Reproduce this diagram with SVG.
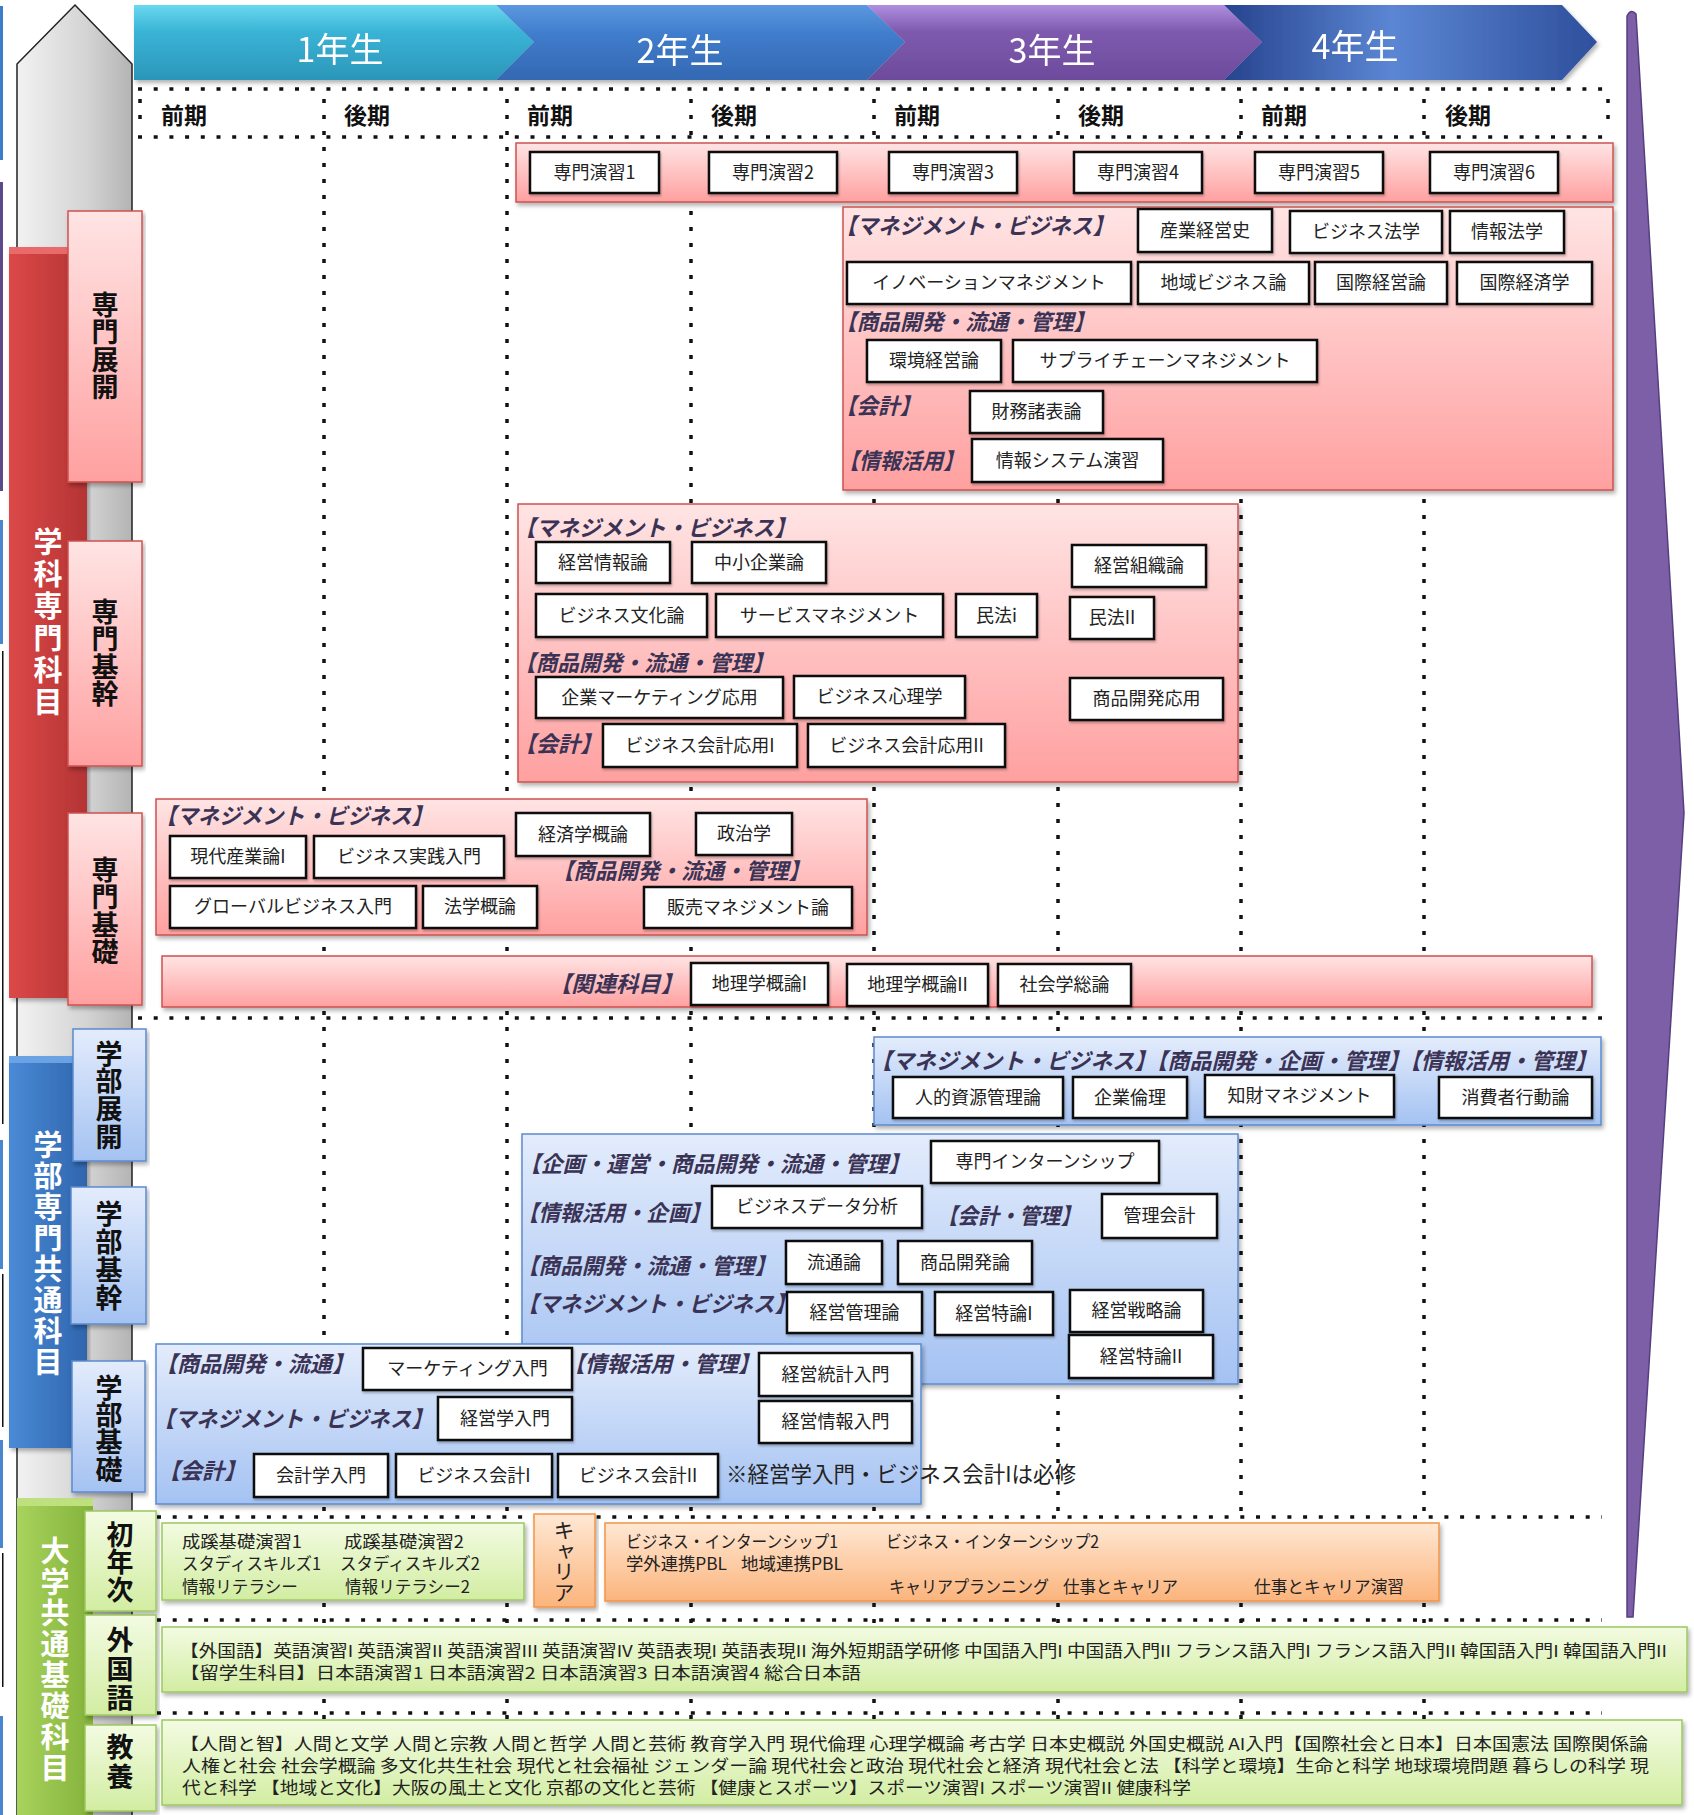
<svg xmlns="http://www.w3.org/2000/svg" width="1694" height="1815" viewBox="0 0 1694 1815">
<defs>
<filter id="sh" x="-5%" y="-10%" width="110%" height="130%"><feDropShadow dx="2" dy="3" stdDeviation="2" flood-color="#000" flood-opacity="0.3"/></filter>
<filter id="sh2" x="-5%" y="-10%" width="110%" height="130%"><feDropShadow dx="1" dy="2" stdDeviation="1" flood-color="#000" flood-opacity="0.25"/></filter>
<linearGradient id="gGray" x1="0" y1="0" x2="1" y2="0"><stop offset="0" stop-color="#f2f2f2"/><stop offset="0.6" stop-color="#d4d4d4"/><stop offset="1" stop-color="#b4b4b4"/></linearGradient>
<linearGradient id="gPink" x1="0" y1="0" x2="0" y2="1"><stop offset="0" stop-color="#ffe4e4"/><stop offset="1" stop-color="#ffa0a0"/></linearGradient>
<linearGradient id="gBlue" x1="0" y1="0" x2="0" y2="1"><stop offset="0" stop-color="#e3ecfc"/><stop offset="1" stop-color="#a4c2f2"/></linearGradient>
<linearGradient id="gGreen" x1="0" y1="0" x2="0" y2="1"><stop offset="0" stop-color="#f3fbe2"/><stop offset="1" stop-color="#d2eda2"/></linearGradient>
<linearGradient id="gOrange" x1="0" y1="0" x2="0" y2="1"><stop offset="0" stop-color="#ffe8d4"/><stop offset="1" stop-color="#fbb47c"/></linearGradient>
<linearGradient id="gRed" x1="0" y1="0" x2="1" y2="0"><stop offset="0" stop-color="#dc4848"/><stop offset="1" stop-color="#b43434"/></linearGradient>
<linearGradient id="gBBar" x1="0" y1="0" x2="1" y2="0"><stop offset="0" stop-color="#4a8ad6"/><stop offset="1" stop-color="#2f65ad"/></linearGradient>
<linearGradient id="gGBar" x1="0" y1="0" x2="1" y2="0"><stop offset="0" stop-color="#a8d35c"/><stop offset="1" stop-color="#84b23a"/></linearGradient>
<linearGradient id="gS1" x1="0" y1="0" x2="0" y2="1"><stop offset="0" stop-color="#6ad8f0"/><stop offset="0.35" stop-color="#3ab4d6"/><stop offset="1" stop-color="#2b96b9"/></linearGradient>
<linearGradient id="gS2" x1="0" y1="0" x2="0" y2="1"><stop offset="0" stop-color="#5c98e0"/><stop offset="0.4" stop-color="#3f7ccb"/><stop offset="1" stop-color="#3468b2"/></linearGradient>
<linearGradient id="gS3" x1="0" y1="0" x2="0" y2="1"><stop offset="0" stop-color="#b08ee0"/><stop offset="0.35" stop-color="#7e5aae"/><stop offset="1" stop-color="#6d4b9c"/></linearGradient>
<linearGradient id="gS4" x1="0" y1="0" x2="1" y2="0"><stop offset="0" stop-color="#27438e"/><stop offset="0.45" stop-color="#5b86d3"/><stop offset="1" stop-color="#2e4f9c"/></linearGradient>
<style>
.box{fill:#fff;stroke:#111;stroke-width:2.5;filter:url(#sh2)}
.bt{font-family:"Noto Sans CJK JP","Noto Sans CJK SC",sans-serif;font-size:18px;fill:#222;text-anchor:middle}
.lab{font-family:"Noto Sans CJK JP","Noto Sans CJK SC",sans-serif;font-size:22px;font-weight:bold;font-style:italic;fill:#3b3355}
.pk{fill:url(#gPink);stroke:#cd5250;stroke-width:1.5;filter:url(#sh)}
.bl{fill:url(#gBlue);stroke:#5b8bd0;stroke-width:1.5;filter:url(#sh)}
.gr{fill:url(#gGreen);stroke:#9cc95e;stroke-width:1.5;filter:url(#sh)}
.or{fill:url(#gOrange);stroke:#f39447;stroke-width:1.5;filter:url(#sh)}
.hd{font-family:"Noto Sans CJK JP","Noto Sans CJK SC",sans-serif;font-size:34px;fill:#fff;text-anchor:middle}
.sem{font-family:"Noto Sans CJK JP","Noto Sans CJK SC",sans-serif;font-size:23px;font-weight:bold;fill:#111}
.vt{font-family:"Noto Sans CJK JP","Noto Sans CJK SC",sans-serif;font-size:27px;font-weight:bold;fill:#111;writing-mode:vertical-rl}
.vw{font-family:"Noto Sans CJK JP","Noto Sans CJK SC",sans-serif;font-size:29px;font-weight:bold;fill:#fff;writing-mode:vertical-rl}
.sm{font-family:"Noto Sans CJK JP","Noto Sans CJK SC",sans-serif;font-size:17px;fill:#222}
.sm2{font-family:"Noto Sans CJK JP","Noto Sans CJK SC",sans-serif;font-size:16.5px;fill:#222}
.dv{stroke:#111;stroke-width:3.5;stroke-dasharray:4 12;fill:none}
.dh{stroke:#111;stroke-width:3.5;stroke-dasharray:4 11.7;fill:none}
</style>
</defs>
<rect width="1694" height="1815" fill="#fff"/>

<!-- left edge slivers -->
<g id="edge">
<rect x="0" y="6" width="3" height="154" fill="#3d7cc9"/>
<rect x="0" y="182" width="3" height="309" fill="#5a4a8a"/>
<rect x="0" y="520" width="3" height="124" fill="#4a86d0"/>
<rect x="2" y="651" width="1.5" height="473" fill="#111"/>
<rect x="0" y="1140" width="3" height="129" fill="#4a86d0"/>
<rect x="2" y="1274" width="1.5" height="153" fill="#111"/>
<rect x="0" y="1440" width="3" height="108" fill="#4a86d0"/>
<rect x="2" y="1553" width="1.5" height="134" fill="#111"/>
<rect x="0" y="1716" width="3" height="99" fill="#4a86d0"/>
</g>

<!-- big gray arrow -->
<path id="grayArrow" d="M75,5 L132,64 L132,1816 L17,1816 L17,64 Z" fill="url(#gGray)" stroke="#222" stroke-width="1.5"/>

<!-- right purple arrow -->
<path id="purpleArrow" d="M1627,16 Q1631,8 1636,14 L1684,813 L1633,1617 L1627,1617 Z" fill="#7d5fa7" stroke="#563f7f" stroke-width="1.5"/>

<!-- year header -->
<g id="years" filter="url(#sh)">
<g id="y1"><path d="M134,5 L496,5 L534,42 L496,80 L134,80 Z" fill="url(#gS1)"/><text class="hd" x="340" y="62">1年生</text></g>
<g id="y2"><path d="M496,5 L867,5 L905,42 L867,80 L496,80 L534,42 Z" fill="url(#gS2)"/><text class="hd" x="680" y="63">2年生</text></g>
<g id="y3"><path d="M867,5 L1224,5 L1262,42 L1224,80 L867,80 L905,42 Z" fill="url(#gS3)"/><text class="hd" x="1052" y="63">3年生</text></g>
<g id="y4"><path d="M1224,5 L1562,5 L1597,42 L1562,80 L1224,80 L1262,42 Z" fill="url(#gS4)"/><text class="hd" x="1355" y="59">4年生</text></g>
</g>

<!-- grid -->
<g id="grid">
<line class="dh" x1="138" y1="89" x2="1610" y2="89"/>
<line class="dh" x1="138" y1="137" x2="1610" y2="137"/>
<line class="dh" x1="138" y1="1018" x2="1602" y2="1018"/>
<line class="dh" x1="157" y1="1517" x2="1602" y2="1517"/>
<line class="dh" x1="157" y1="1620" x2="1602" y2="1620"/>
<line class="dh" x1="157" y1="1713" x2="1602" y2="1713"/>
<line class="dv" x1="140" y1="99" x2="140" y2="130"/>
<line class="dv" x1="1608" y1="99" x2="1608" y2="130"/>
<line class="dv" x1="324" y1="99" x2="324" y2="1810"/>
<line class="dv" x1="507" y1="99" x2="507" y2="1810"/>
<line class="dv" x1="691" y1="99" x2="691" y2="1810"/>
<line class="dv" x1="874" y1="99" x2="874" y2="1810"/>
<line class="dv" x1="1058" y1="99" x2="1058" y2="1810"/>
<line class="dv" x1="1241" y1="99" x2="1241" y2="1810"/>
<line class="dv" x1="1424" y1="99" x2="1424" y2="1810"/>
</g>

<g id="semesters">
<text class="sem" x="161" y="124">前期</text>
<text class="sem" x="344" y="124">後期</text>
<text class="sem" x="527" y="124">前期</text>
<text class="sem" x="711" y="124">後期</text>
<text class="sem" x="894" y="124">前期</text>
<text class="sem" x="1078" y="124">後期</text>
<text class="sem" x="1261" y="124">前期</text>
<text class="sem" x="1445" y="124">後期</text>
</g>

<!-- category bars -->
<g id="cat-gakka">
<rect x="9" y="247" width="78" height="751" fill="url(#gRed)" filter="url(#sh)"/>
<rect x="9" y="247" width="78" height="7" fill="#e86a6a"/>
<text class="vw" x="48" y="527" letter-spacing="3">学科専門科目</text>
</g>
<g id="cat-gakubu">
<rect x="9" y="1056" width="78" height="392" fill="url(#gBBar)" filter="url(#sh)"/>
<rect x="9" y="1056" width="78" height="7" fill="#6aa2e4"/>
<text class="vw" x="48" y="1130" letter-spacing="2">学部専門共通科目</text>
</g>
<g id="cat-daigaku">
<rect x="17" y="1498" width="76" height="320" fill="url(#gGBar)"/>
<rect x="17" y="1498" width="76" height="8" fill="#bfe07e"/>
<text class="vw" x="55" y="1536" letter-spacing="2">大学共通基礎科目</text>
</g>

<!-- sub category boxes -->
<g id="sub-tenkai"><rect class="pk" x="68" y="211" width="74" height="271"/><text class="vt" x="105" y="291" letter-spacing="0.5">専門展開</text></g>
<g id="sub-kikan"><rect class="pk" x="68" y="541" width="74" height="225"/><text class="vt" x="105" y="598" letter-spacing="0.5">専門基幹</text></g>
<g id="sub-kiso"><rect class="pk" x="68" y="813" width="74" height="192"/><text class="vt" x="105" y="856" letter-spacing="0.5">専門基礎</text></g>
<g id="sub-gtenkai"><rect class="bl" x="73" y="1029" width="73" height="132"/><text class="vt" x="109" y="1040" letter-spacing="0.7">学部展開</text></g>
<g id="sub-gkikan"><rect class="bl" x="71" y="1187" width="75" height="137"/><text class="vt" x="109" y="1200" letter-spacing="1">学部基幹</text></g>
<g id="sub-gkiso"><rect class="bl" x="72" y="1361" width="73" height="131"/><text class="vt" x="109" y="1374" letter-spacing="0.3">学部基礎</text></g>
<g id="sub-shonen"><rect class="gr" x="85" y="1511" width="71" height="100"/><text class="vt" x="120" y="1521" letter-spacing="0.5">初年次</text></g>
<g id="sub-gaikoku"><rect class="gr" x="85" y="1615" width="71" height="100"/><text class="vt" x="120" y="1626" letter-spacing="2">外国語</text></g>
<g id="sub-kyoyo"><rect class="gr" x="85" y="1725" width="71" height="86"/><text class="vt" x="120" y="1733" letter-spacing="3">教養</text></g>

<!-- Panel: 専門演習 -->
<g id="p-enshu">
<rect class="pk" x="516" y="143" width="1097" height="59"/>
<g id="c-enshu1"><rect class="box" x="530" y="152" width="129" height="41"/><text class="bt" x="594.5" y="179">専門演習1</text></g>
<g id="c-enshu2"><rect class="box" x="709" y="152" width="128" height="41"/><text class="bt" x="773" y="179">専門演習2</text></g>
<g id="c-enshu3"><rect class="box" x="889" y="152" width="128" height="41"/><text class="bt" x="953" y="179">専門演習3</text></g>
<g id="c-enshu4"><rect class="box" x="1074" y="152" width="128" height="41"/><text class="bt" x="1138" y="179">専門演習4</text></g>
<g id="c-enshu5"><rect class="box" x="1255" y="152" width="128" height="41"/><text class="bt" x="1319" y="179">専門演習5</text></g>
<g id="c-enshu6"><rect class="box" x="1430" y="152" width="128" height="41"/><text class="bt" x="1494" y="179">専門演習6</text></g>
</g>

<!-- Panel: 専門展開 -->
<g id="p-tenkai">
<rect class="pk" x="843" y="207" width="770" height="283"/>
<text class="lab" x="835" y="234" textLength="279" lengthAdjust="spacingAndGlyphs">【マネジメント・ビジネス】</text>
<text class="lab" x="835" y="330" textLength="260" lengthAdjust="spacingAndGlyphs">【商品開発・流通・管理】</text>
<text class="lab" x="835" y="414" textLength="86" lengthAdjust="spacingAndGlyphs">【会計】</text>
<text class="lab" x="838" y="469" textLength="126" lengthAdjust="spacingAndGlyphs">【情報活用】</text>
<g id="c-sangyo"><rect class="box" x="1138" y="209" width="134" height="43"/><text class="bt" x="1205" y="237">産業経営史</text></g>
<g id="c-bizhou"><rect class="box" x="1290" y="211" width="152" height="42"/><text class="bt" x="1366" y="238">ビジネス法学</text></g>
<g id="c-johohou"><rect class="box" x="1450" y="211" width="114" height="42"/><text class="bt" x="1507" y="238">情報法学</text></g>
<g id="c-innov"><rect class="box" x="847" y="262" width="284" height="42"/><text class="bt" x="989" y="289">イノベーションマネジメント</text></g>
<g id="c-chiiki"><rect class="box" x="1138" y="262" width="171" height="42"/><text class="bt" x="1223.5" y="289">地域ビジネス論</text></g>
<g id="c-kokukei"><rect class="box" x="1315" y="262" width="132" height="42"/><text class="bt" x="1381" y="289">国際経営論</text></g>
<g id="c-kokuzai"><rect class="box" x="1457" y="262" width="135" height="42"/><text class="bt" x="1524.5" y="289">国際経済学</text></g>
<g id="c-kankyo"><rect class="box" x="867" y="340" width="134" height="42"/><text class="bt" x="934" y="367">環境経営論</text></g>
<g id="c-supply"><rect class="box" x="1013" y="340" width="304" height="42"/><text class="bt" x="1165" y="367">サプライチェーンマネジメント</text></g>
<g id="c-zaimu"><rect class="box" x="970" y="391" width="133" height="42"/><text class="bt" x="1036.5" y="418">財務諸表論</text></g>
<g id="c-johosys"><rect class="box" x="972" y="439" width="191" height="43"/><text class="bt" x="1067.5" y="467">情報システム演習</text></g>
</g>

<!-- Panel: 専門基幹 -->
<g id="p-kikan">
<rect class="pk" x="518" y="504" width="720" height="278"/>
<text class="lab" x="514" y="536" textLength="282" lengthAdjust="spacingAndGlyphs">【マネジメント・ビジネス】</text>
<text class="lab" x="514" y="671" textLength="260" lengthAdjust="spacingAndGlyphs">【商品開発・流通・管理】</text>
<text class="lab" x="514" y="752" textLength="88" lengthAdjust="spacingAndGlyphs">【会計】</text>
<g id="c-keijo"><rect class="box" x="536" y="542" width="134" height="41"/><text class="bt" x="603" y="569">経営情報論</text></g>
<g id="c-chusho"><rect class="box" x="692" y="542" width="134" height="41"/><text class="bt" x="759" y="569">中小企業論</text></g>
<g id="c-soshiki"><rect class="box" x="1072" y="545" width="134" height="42"/><text class="bt" x="1139" y="572">経営組織論</text></g>
<g id="c-bunka"><rect class="box" x="536" y="594" width="171" height="43"/><text class="bt" x="621.5" y="622">ビジネス文化論</text></g>
<g id="c-service"><rect class="box" x="716" y="594" width="227" height="43"/><text class="bt" x="829.5" y="622">サービスマネジメント</text></g>
<g id="c-minpo1"><rect class="box" x="956" y="594" width="81" height="43"/><text class="bt" x="996.5" y="622">民法i</text></g>
<g id="c-minpo2"><rect class="box" x="1070" y="597" width="84" height="42"/><text class="bt" x="1112" y="624">民法II</text></g>
<g id="c-kigyomk"><rect class="box" x="536" y="677" width="247" height="41"/><text class="bt" x="659.5" y="704">企業マーケティング応用</text></g>
<g id="c-shinri"><rect class="box" x="794" y="676" width="171" height="42"/><text class="bt" x="879.5" y="703">ビジネス心理学</text></g>
<g id="c-shohinoyo"><rect class="box" x="1070" y="678" width="153" height="42"/><text class="bt" x="1146.5" y="705">商品開発応用</text></g>
<g id="c-kaikei1"><rect class="box" x="603" y="724" width="194" height="43"/><text class="bt" x="700" y="752">ビジネス会計応用I</text></g>
<g id="c-kaikei2"><rect class="box" x="808" y="724" width="197" height="43"/><text class="bt" x="906.5" y="752">ビジネス会計応用II</text></g>
</g>

<!-- Panel: 専門基礎 -->
<g id="p-kiso">
<rect class="pk" x="156" y="799" width="711" height="136"/>
<text class="lab" x="155" y="824" textLength="278" lengthAdjust="spacingAndGlyphs">【マネジメント・ビジネス】</text>
<text class="lab" x="552" y="879" textLength="258" lengthAdjust="spacingAndGlyphs">【商品開発・流通・管理】</text>
<g id="c-gendai"><rect class="box" x="170" y="836" width="136" height="42"/><text class="bt" x="238" y="863">現代産業論I</text></g>
<g id="c-jissen"><rect class="box" x="314" y="836" width="190" height="42"/><text class="bt" x="409" y="863">ビジネス実践入門</text></g>
<g id="c-keizai"><rect class="box" x="516" y="813" width="134" height="43"/><text class="bt" x="583" y="841">経済学概論</text></g>
<g id="c-seiji"><rect class="box" x="696" y="813" width="96" height="42"/><text class="bt" x="744" y="840">政治学</text></g>
<g id="c-global"><rect class="box" x="170" y="886" width="246" height="42"/><text class="bt" x="293" y="913">グローバルビジネス入門</text></g>
<g id="c-hogaku"><rect class="box" x="423" y="886" width="114" height="42"/><text class="bt" x="480" y="913">法学概論</text></g>
<g id="c-hanbai"><rect class="box" x="644" y="887" width="208" height="41"/><text class="bt" x="748" y="914">販売マネジメント論</text></g>
</g>

<!-- Panel: 関連科目 -->
<g id="p-kanren">
<rect class="pk" x="162" y="956" width="1430" height="51"/>
<text class="lab" x="549" y="992" textLength="134" lengthAdjust="spacingAndGlyphs">【関連科目】</text>
<g id="c-chiri1"><rect class="box" x="691" y="963" width="137" height="42"/><text class="bt" x="759.5" y="990">地理学概論I</text></g>
<g id="c-chiri2"><rect class="box" x="847" y="964" width="141" height="42"/><text class="bt" x="917.5" y="991">地理学概論II</text></g>
<g id="c-shakai"><rect class="box" x="998" y="964" width="133" height="42"/><text class="bt" x="1064.5" y="991">社会学総論</text></g>
</g>

<!-- Panel: 学部展開 -->
<g id="p-gtenkai">
<rect class="bl" x="874" y="1037" width="727" height="88"/>
<text class="lab" x="870" y="1069" textLength="727" lengthAdjust="spacingAndGlyphs">【マネジメント・ビジネス】【商品開発・企画・管理】【情報活用・管理】</text>
<g id="c-jinteki"><rect class="box" x="893" y="1077" width="170" height="41"/><text class="bt" x="978" y="1104">人的資源管理論</text></g>
<g id="c-rinri"><rect class="box" x="1073" y="1077" width="114" height="41"/><text class="bt" x="1130" y="1104">企業倫理</text></g>
<g id="c-chizai"><rect class="box" x="1205" y="1075" width="189" height="42"/><text class="bt" x="1299.5" y="1102">知財マネジメント</text></g>
<g id="c-shohisha"><rect class="box" x="1439" y="1077" width="153" height="41"/><text class="bt" x="1515.5" y="1104">消費者行動論</text></g>
</g>

<!-- Panel: 学部基幹 -->
<g id="p-gkikan">
<rect class="bl" x="522" y="1134" width="716" height="250"/>
<text class="lab" x="519" y="1172" textLength="391" lengthAdjust="spacingAndGlyphs">【企画・運営・商品開発・流通・管理】</text>
<text class="lab" x="517" y="1221" textLength="194" lengthAdjust="spacingAndGlyphs">【情報活用・企画】</text>
<text class="lab" x="937" y="1224" textLength="144" lengthAdjust="spacingAndGlyphs">【会計・管理】</text>
<text class="lab" x="517" y="1274" textLength="259" lengthAdjust="spacingAndGlyphs">【商品開発・流通・管理】</text>
<text class="lab" x="517" y="1312" textLength="279" lengthAdjust="spacingAndGlyphs">【マネジメント・ビジネス】</text>
<g id="c-intern"><rect class="box" x="931" y="1141" width="228" height="42"/><text class="bt" x="1045" y="1168">専門インターンシップ</text></g>
<g id="c-data"><rect class="box" x="712" y="1186" width="210" height="42"/><text class="bt" x="817" y="1213">ビジネスデータ分析</text></g>
<g id="c-kanri"><rect class="box" x="1102" y="1194" width="115" height="44"/><text class="bt" x="1159.5" y="1222">管理会計</text></g>
<g id="c-ryutsu"><rect class="box" x="786" y="1241" width="96" height="43"/><text class="bt" x="834" y="1269">流通論</text></g>
<g id="c-shohin"><rect class="box" x="898" y="1241" width="134" height="43"/><text class="bt" x="965" y="1269">商品開発論</text></g>
<g id="c-keikan"><rect class="box" x="787" y="1292" width="135" height="41"/><text class="bt" x="854.5" y="1319">経営管理論</text></g>
<g id="c-tokuron1"><rect class="box" x="935" y="1292" width="118" height="43"/><text class="bt" x="994" y="1320">経営特論I</text></g>
<g id="c-senryaku"><rect class="box" x="1070" y="1290" width="133" height="42"/><text class="bt" x="1136.5" y="1317">経営戦略論</text></g>
<g id="c-tokuron2"><rect class="box" x="1069" y="1335" width="144" height="43"/><text class="bt" x="1141" y="1363">経営特論II</text></g>
</g>

<!-- Panel: 学部基礎 -->
<g id="p-gkiso">
<rect class="bl" x="156" y="1344" width="765" height="160"/>
<text class="lab" x="155" y="1372" textLength="199" lengthAdjust="spacingAndGlyphs">【商品開発・流通】</text>
<text class="lab" x="563" y="1372" textLength="197" lengthAdjust="spacingAndGlyphs">【情報活用・管理】</text>
<text class="lab" x="153" y="1427" textLength="280" lengthAdjust="spacingAndGlyphs">【マネジメント・ビジネス】</text>
<text class="lab" x="158" y="1479" textLength="88" lengthAdjust="spacingAndGlyphs">【会計】</text>
<g id="c-mkt"><rect class="box" x="363" y="1348" width="209" height="42"/><text class="bt" x="467.5" y="1375">マーケティング入門</text></g>
<g id="c-tokei"><rect class="box" x="759" y="1353" width="153" height="43"/><text class="bt" x="835.5" y="1381">経営統計入門</text></g>
<g id="c-keieigaku"><rect class="box" x="438" y="1397" width="134" height="43"/><text class="bt" x="505" y="1425">経営学入門</text></g>
<g id="c-keijonyumon"><rect class="box" x="759" y="1401" width="153" height="42"/><text class="bt" x="835.5" y="1428">経営情報入門</text></g>
<g id="c-kaikeigaku"><rect class="box" x="254" y="1454" width="134" height="43"/><text class="bt" x="321" y="1482">会計学入門</text></g>
<g id="c-bizkai1"><rect class="box" x="396" y="1454" width="156" height="43"/><text class="bt" x="474" y="1482">ビジネス会計I</text></g>
<g id="c-bizkai2"><rect class="box" x="558" y="1454" width="160" height="43"/><text class="bt" x="638" y="1482">ビジネス会計II</text></g>
<text x="726" y="1482" font-family="Noto Sans CJK JP, sans-serif" font-size="22" fill="#222" textLength="350" lengthAdjust="spacingAndGlyphs">※経営学入門・ビジネス会計Iは必修</text>
</g>

<!-- 初年次 -->
<g id="p-shonen">
<rect class="gr" x="162" y="1523" width="362" height="77"/>
<text class="sm" x="182" y="1548" textLength="120" lengthAdjust="spacingAndGlyphs">成蹊基礎演習1</text>
<text class="sm" x="344" y="1548" textLength="120" lengthAdjust="spacingAndGlyphs">成蹊基礎演習2</text>
<text class="sm" x="182" y="1570" textLength="139" lengthAdjust="spacingAndGlyphs">スタディスキルズ1</text>
<text class="sm" x="340" y="1570" textLength="140" lengthAdjust="spacingAndGlyphs">スタディスキルズ2</text>
<text class="sm" x="182" y="1593" textLength="116" lengthAdjust="spacingAndGlyphs">情報リテラシー</text>
<text class="sm" x="345" y="1593" textLength="125" lengthAdjust="spacingAndGlyphs">情報リテラシー2</text>
</g>
<g id="p-career-label">
<rect class="or" x="534" y="1514" width="61" height="93"/>
<text x="564" y="1520" font-family="Noto Sans CJK JP, sans-serif" font-size="21" fill="#222" style="writing-mode:vertical-rl" letter-spacing="-0.5">キャリア</text>
</g>
<g id="p-career">
<rect class="or" x="605" y="1523" width="834" height="78"/>
<text class="sm" x="626" y="1548" textLength="212" lengthAdjust="spacingAndGlyphs">ビジネス・インターンシップ1</text>
<text class="sm" x="626" y="1570" textLength="101" lengthAdjust="spacingAndGlyphs">学外連携PBL</text>
<text class="sm" x="741" y="1570" textLength="102" lengthAdjust="spacingAndGlyphs">地域連携PBL</text>
<text class="sm" x="886" y="1548" textLength="213" lengthAdjust="spacingAndGlyphs">ビジネス・インターンシップ2</text>
<text class="sm" x="889" y="1593" textLength="160" lengthAdjust="spacingAndGlyphs">キャリアプランニング</text>
<text class="sm" x="1063" y="1593" textLength="115" lengthAdjust="spacingAndGlyphs">仕事とキャリア</text>
<text class="sm" x="1254" y="1593" textLength="150" lengthAdjust="spacingAndGlyphs">仕事とキャリア演習</text>
</g>

<!-- 外国語 -->
<g id="p-gaikoku">
<rect class="gr" x="162" y="1627" width="1525" height="65"/>
<text class="sm2" x="180" y="1657" textLength="1487" lengthAdjust="spacingAndGlyphs">【外国語】英語演習I 英語演習II 英語演習III 英語演習IV 英語表現I 英語表現II 海外短期語学研修 中国語入門I 中国語入門II フランス語入門I フランス語入門II 韓国語入門I 韓国語入門II</text>
<text class="sm2" x="180" y="1679" textLength="681" lengthAdjust="spacingAndGlyphs">【留学生科目】日本語演習1 日本語演習2 日本語演習3 日本語演習4 総合日本語</text>
</g>

<!-- 教養 -->
<g id="p-kyoyo">
<rect class="gr" x="162" y="1720" width="1520" height="85"/>
<text class="sm2" x="180" y="1750" textLength="1468" lengthAdjust="spacingAndGlyphs">【人間と智】人間と文学 人間と宗教 人間と哲学 人間と芸術 教育学入門 現代倫理 心理学概論 考古学 日本史概説 外国史概説 AI入門【国際社会と日本】日本国憲法 国際関係論</text>
<text class="sm2" x="182" y="1771.5" textLength="1467" lengthAdjust="spacingAndGlyphs">人権と社会 社会学概論 多文化共生社会 現代と社会福祉 ジェンダー論 現代社会と政治 現代社会と経済 現代社会と法 【科学と環境】生命と科学 地球環境問題 暮らしの科学 現</text>
<text class="sm2" x="182" y="1793.5" textLength="1009" lengthAdjust="spacingAndGlyphs">代と科学 【地域と文化】大阪の風土と文化 京都の文化と芸術 【健康とスポーツ】スポーツ演習I スポーツ演習II 健康科学</text>
</g>
</svg>
